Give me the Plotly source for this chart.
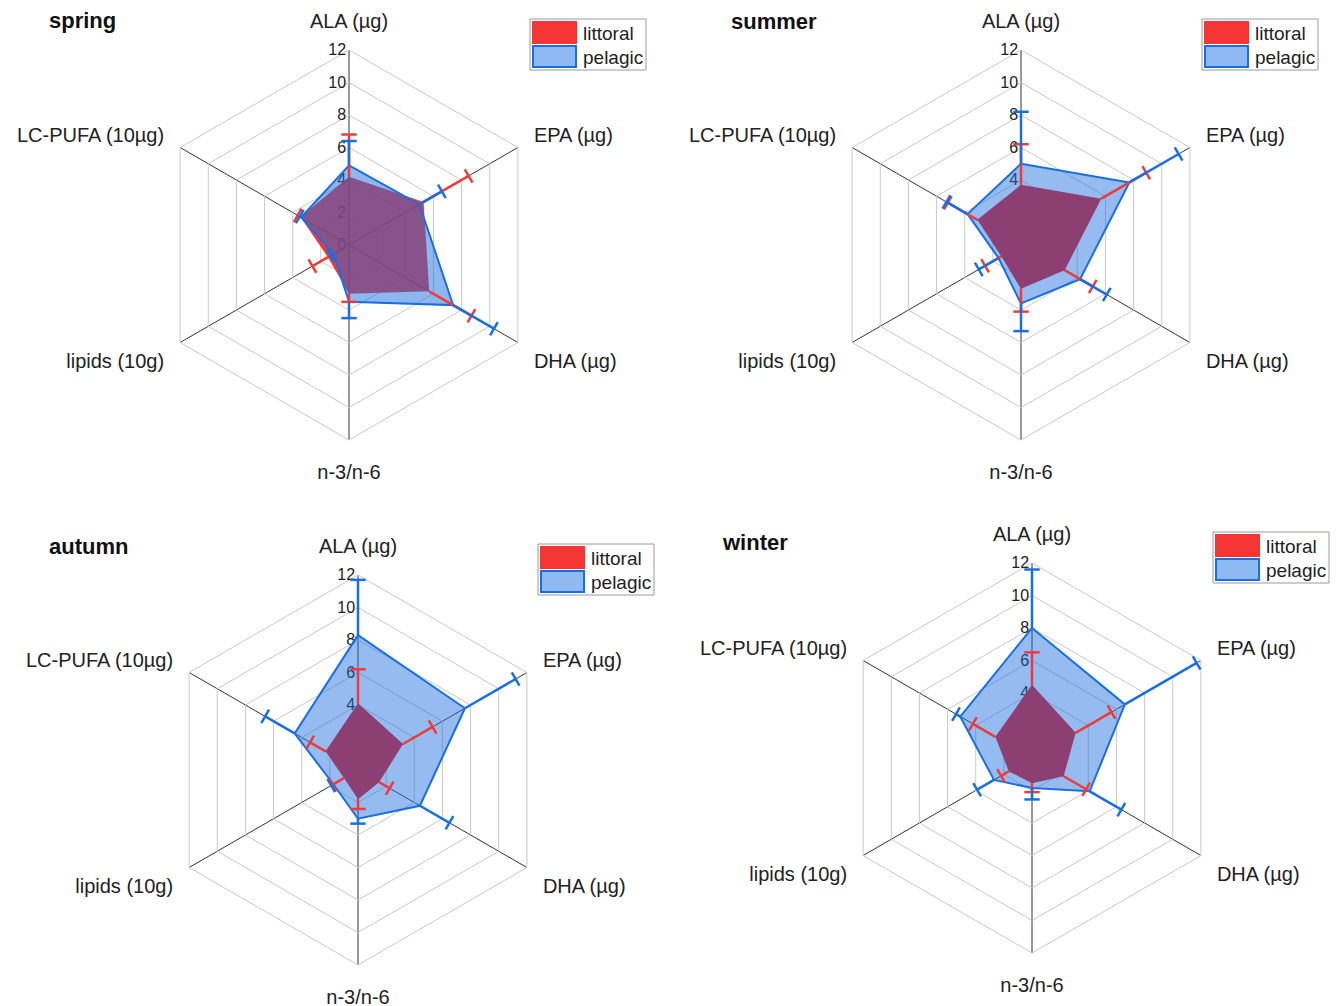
import plotly.graph_objects as go

categories = ["ALA (µg)", "EPA (µg)", "DHA (µg)", "n-3/n-6", "lipids (10g)", "LC-PUFA (10µg)"]
seasons = ["spring", "summer", "autumn", "winter"]
series_names = ["littoral", "pelagic"]
radial_ticks = [0, 2, 4, 6, 8, 10, 12]

spring_littoral = [4.2, 5.3, 5.7, 3.0, 1.5, 3.45]
spring_littoral_err = [2.6, 3.2, 3.0, 0.5, 1.1, 0.2]
spring_pelagic = [4.9, 5.0, 7.4, 3.5, 1.1, 3.4]
spring_pelagic_err = [1.5, 1.6, 2.9, 1.0, 0.2, 0.1]

summer_littoral = [3.7, 5.7, 3.1, 2.7, 1.4, 3.1]
summer_littoral_err = [2.5, 3.2, 2.0, 1.4, 1.15, 2.1]
summer_pelagic = [5.0, 7.7, 4.2, 3.6, 1.6, 3.8]
summer_pelagic_err = [3.2, 3.5, 1.9, 1.7, 1.4, 1.5]

autumn_littoral = [4.1, 3.2, 1.5, 1.8, 1.0, 2.3]
autumn_littoral_err = [2.1, 2.1, 0.75, 0.6, 0.8, 1.1]
autumn_pelagic = [8.3, 7.6, 4.4, 3.0, 1.75, 4.5]
autumn_pelagic_err = [3.4, 3.6, 2.1, 0.3, 0.15, 2.1]

winter_littoral = [4.5, 3.1, 2.25, 1.55, 1.65, 2.6]
winter_littoral_err = [2.0, 2.55, 1.6, 0.55, 0.55, 1.6]
winter_pelagic = [8.0, 6.6, 4.1, 1.85, 2.7, 5.1]
winter_pelagic_err = [3.6, 5.1, 2.25, 0.7, 1.2, 0.3]

data = {
    "spring": [(spring_littoral, spring_littoral_err), (spring_pelagic, spring_pelagic_err)],
    "summer": [(summer_littoral, summer_littoral_err), (summer_pelagic, summer_pelagic_err)],
    "autumn": [(autumn_littoral, autumn_littoral_err), (autumn_pelagic, autumn_pelagic_err)],
    "winter": [(winter_littoral, winter_littoral_err), (winter_pelagic, winter_pelagic_err)],
}

# page geometry (page pixels); the figure sits 8 px in from the page corner
W, H = 1338, 1006
OFF = 8
def px(x):
    return (x - OFF) / W
def py(y):
    return 1 - (y - OFF) / H

centers = {"spring": (349, 245), "summer": (1021, 245), "autumn": (358, 770), "winter": (1032, 758)}
R = 195
title_pos = {"spring": (47, 20), "summer": (729, 22), "autumn": (47, 546), "winter": (720, 542)}
legend_box = {"spring": (530, 19), "summer": (1202, 19), "autumn": (538, 544), "winter": (1213, 532)}

FONT = "Arial, Liberation Sans, sans-serif"
RED_LINE = "#f03a3a"
BLUE_LINE = "#1a6fe0"
fills = {
    "spring": ["rgba(240,20,20,0.85)", "rgba(30,111,224,0.5)"],
    "summer": ["rgba(240,20,20,1.0)", "rgba(30,111,224,0.47)"],
    "autumn": ["rgba(240,20,20,1.0)", "rgba(30,111,224,0.47)"],
    "winter": ["rgba(240,20,20,1.0)", "rgba(30,111,224,0.47)"],
}
swatch_fill = ["#f53535", "#8fb9f1"]
swatch_line = ["#f53535", BLUE_LINE]
line_colors = [RED_LINE, BLUE_LINE]
cap_angles = [(60 * i) % 180 for i in range(len(categories))]

fig = go.Figure()
layout = {}
shapes = []
annotations = []
for k, s in enumerate(seasons):
    pid = "polar" if k == 0 else f"polar{k+1}"
    cx, cy = centers[s]
    for j, name in enumerate(series_names):
        vals, errs = data[s][j]
        fig.add_trace(go.Scatterpolar(
            r=vals + vals[:1], theta=categories + categories[:1],
            mode="lines", fill="toself", fillcolor=fills[s][j],
            line=dict(color=(BLUE_LINE if j == 1 else "rgba(0,0,0,0)"), width=2),
            name=name, subplot=pid, showlegend=False, hoverinfo="skip",
        ))
    for j, name in enumerate(series_names):
        vals, errs = data[s][j]
        rr, tt = [], []
        for c, v, e in zip(categories, vals, errs):
            rr += [v, v + e, None]
            tt += [c, c, None]
        fig.add_trace(go.Scatterpolar(
            r=rr, theta=tt, mode="lines", line=dict(color=line_colors[j], width=2.5),
            subplot=pid, showlegend=False, hoverinfo="skip", connectgaps=False,
        ))
        fig.add_trace(go.Scatterpolar(
            r=[v + e for v, e in zip(vals, errs)], theta=categories, mode="markers",
            marker=dict(symbol="line-ew", size=11, angle=cap_angles,
                        line=dict(color=line_colors[j], width=2.5)),
            subplot=pid, showlegend=False, hoverinfo="skip",
        ))
    layout[pid] = dict(
        domain=dict(x=[px(cx - R), px(cx + R)], y=[py(cy + R), py(cy - R)]),
        gridshape="linear", bgcolor="white",
        radialaxis=dict(range=[0, 12], tickvals=radial_ticks, angle=90, side="counterclockwise",
                        tickangle=90, showline=False, ticks="", gridcolor="#c8c8c8", gridwidth=1,
                        tickfont=dict(size=16, color="#222", family=FONT), layer="below traces"),
        angularaxis=dict(type="category", categoryarray=categories, rotation=90, direction="clockwise",
                         gridcolor="#333333", gridwidth=1, showline=True, linecolor="#c8c8c8", linewidth=1,
                         ticks="outside", ticklen=14, tickcolor="rgba(0,0,0,0)",
                         tickfont=dict(size=20, color="#222", family=FONT), layer="below traces"),
    )
    # legend box drawn as shapes + text
    bx, by = legend_box[s]
    shapes.append(dict(type="rect", xref="paper", yref="paper", x0=px(bx), x1=px(bx + 116),
                       y0=py(by + 51), y1=py(by), line=dict(color="#9a9a9a", width=1),
                       fillcolor="white", layer="above"))
    for j, name in enumerate(series_names):
        sy = by + 3 + j * 24
        shapes.append(dict(type="rect", xref="paper", yref="paper", x0=px(bx + 3), x1=px(bx + 46),
                           y0=py(sy + 21), y1=py(sy), line=dict(color=swatch_line[j], width=2),
                           fillcolor=swatch_fill[j], layer="above"))
        annotations.append(dict(text=name, x=px(bx + 51), y=py(sy + 11), xref="paper", yref="paper",
                                xanchor="left", yanchor="middle", showarrow=False,
                                font=dict(size=19, color="#222", family=FONT)))

for s in seasons:
    tx, ty = title_pos[s]
    annotations.append(dict(text=f"<b>{s}</b>", x=px(tx), y=py(ty), xref="paper", yref="paper",
                            xanchor="left", yanchor="middle", showarrow=False,
                            font=dict(size=22, color="#111", family=FONT)))

fig.update_layout(width=W, height=H, margin=dict(l=0, r=0, t=0, b=0), paper_bgcolor="white",
                  plot_bgcolor="white", annotations=annotations, shapes=shapes, showlegend=False,
                  **layout)
fig.write_html("out.html")
